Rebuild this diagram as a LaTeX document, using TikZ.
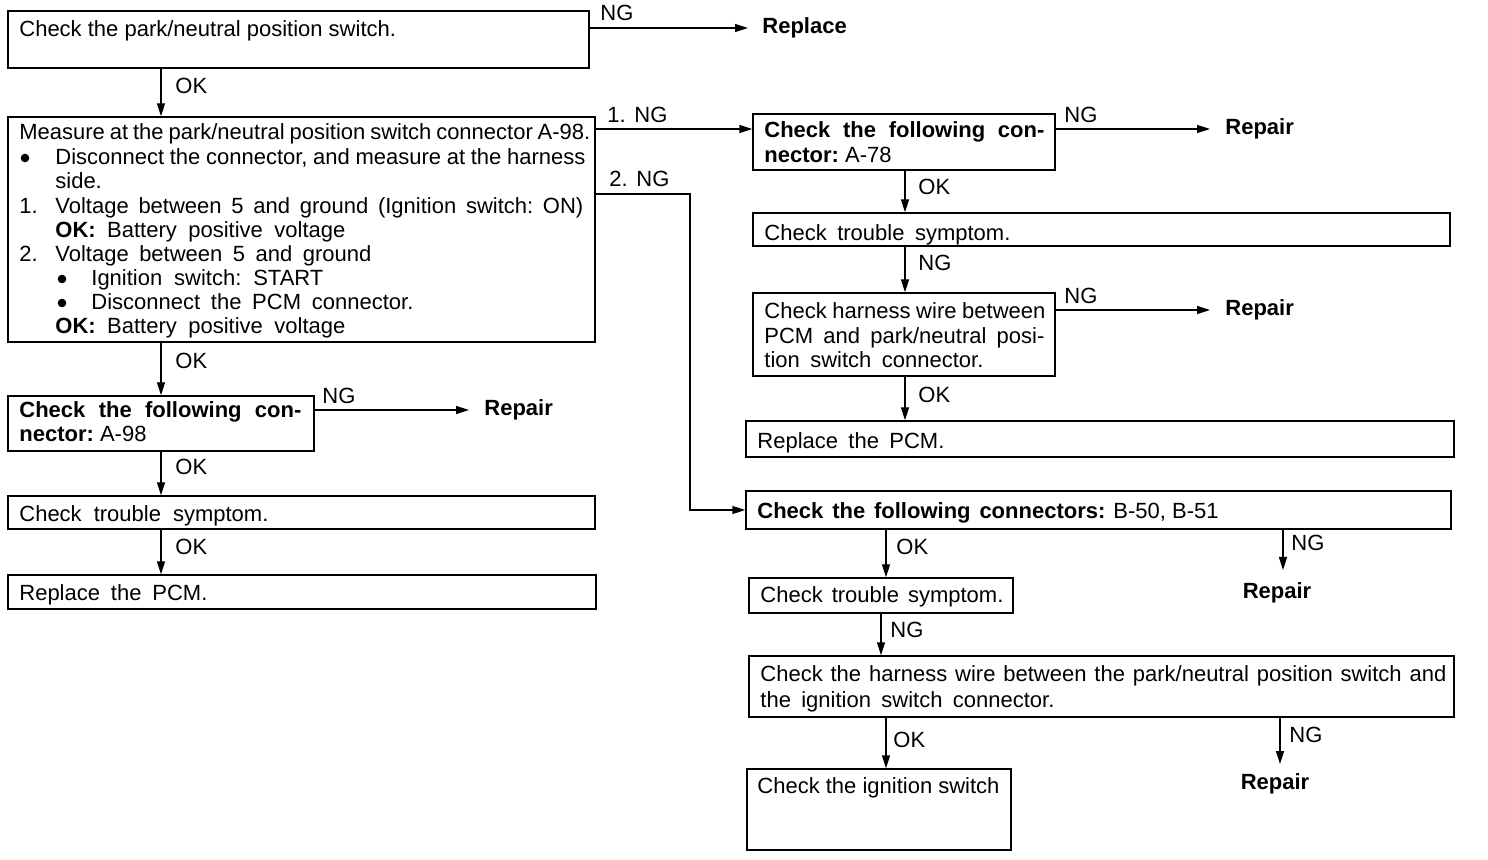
\documentclass[tikz,border=0pt]{standalone}
\usepackage{fontspec}
\setmainfont{Liberation Sans}
\usetikzlibrary{arrows.meta,fit,calc}
\newcommand{\jl}[2]{\makebox[\dimexpr #1pt/2\relax][s]{#2}}
\begin{document}
\begin{tikzpicture}[x=0.5pt,y=-0.5pt,
  box/.style={draw,line width=0.7pt,inner sep=0pt},
  txt/.style={anchor=base west,inner sep=0pt,font=\fontsize{11}{12.3}\selectfont\frenchspacing},
  res/.style={inner sep=0pt,font=\fontsize{11}{12.3}\selectfont\bfseries},
  dot/.style={circle,fill,inner sep=0pt,minimum size=4.3pt},
  arr/.style={line width=0.7pt,-{Triangle[length=6.5pt,width=4pt]}}]
\useasboundingbox (0,0) rectangle (1488,860);
% ---------- left column ----------
\coordinate (cL) at (161,0);
\node[box,fit={(8,11)(589,68)}] (b1) {};
\node[txt] (b1t) at (19,37) {Check the park/neutral position switch.};
\node[res,anchor=west] (rep1) at (762,28) {Replace};
\node[txt] (ng1) at (600,21) {NG};
\draw[arr] (b1.east |- rep1.west) -- ($(rep1.west)+(-14,0)$);

\node[box,fit={(8,117)(595,342)}] (b2) {};
\draw[arr] (cL |- b1.south) -- (cL |- b2.north);
\node[txt] (ok1) at (175,94) {OK};
\node[txt] (l1) at (19,140) {\jl{571}{Measure at the park/neutral position switch connector A-98.}};
\node[dot] (l2b) at (25,158) {};
\node[txt] (l2) at (55,165) {\jl{530}{Disconnect the connector, and measure at the harness}};
\node[txt] (l3) at (55,189) {side.};
\node[txt] (l4n) at (19,214) {1.};
\node[txt] (l4) at (55,214) {\jl{528}{Voltage between 5 and ground (Ignition switch: ON)}};
\node[txt] (l5) at (55,238) {\jl{290}{\textbf{OK:} Battery positive voltage}};
\node[txt] (l6n) at (19,262) {2.};
\node[txt] (l6) at (55,262) {\jl{316}{Voltage between 5 and ground}};
\node[dot] (l7b) at (62,279) {};
\node[txt] (l7) at (91,286) {\jl{232}{Ignition switch: START}};
\node[dot] (l8b) at (62,303) {};
\node[txt] (l8) at (91,310) {\jl{322}{Disconnect the PCM connector.}};
\node[txt] (l9) at (55,334) {\jl{290}{\textbf{OK:} Battery positive voltage}};

\node[box,fit={(8,396)(314,451)}] (b3) {};
\draw[arr] (cL |- b2.south) -- (cL |- b3.north);
\node[txt] (ok2) at (175,369) {OK};
\node[txt] (b3t1) at (19,418) {\jl{282}{\bfseries Check the following con-}};
\node[txt] (b3t2) at (19,442) {\textbf{nector:} A-98};
\node[res,anchor=west] (rep2) at (484,410) {Repair};
\node[txt] (ng2) at (322,404) {NG};
\draw[arr] (b3.east |- rep2.west) -- ($(rep2.west)+(-15,0)$);

\node[box,fit={(8,496)(595,529)}] (b4) {};
\draw[arr] (cL |- b3.south) -- (cL |- b4.north);
\node[txt] (ok3) at (175,475) {OK};
\node[txt] (b4t) at (19,522) {\jl{249}{Check trouble symptom.}};

\node[box,fit={(8,575)(596,609)}] (b5) {};
\draw[arr] (cL |- b4.south) -- (cL |- b5.north);
\node[txt] (ok4) at (175,554) {OK};
\node[txt] (b5t) at (19,601) {\jl{188}{Replace the PCM.}};

% ---------- right column, branch 1 ----------
\node[box,fit={(753,114)(1055,170)}] (r1) {};
\coordinate (t1) at (700,129);
\draw[arr] (b2.east |- t1) -- (r1.west |- t1);
\node[txt] (ng3) at (607,123) {\jl{60}{1. NG}};
\node[txt] (r1t1) at (764,138) {\jl{280}{\bfseries Check the following con-}};
\node[txt] (r1t2) at (764,163) {\textbf{nector:} A-78};
\node[res,anchor=west] (rep3) at (1225,129) {Repair};
\node[txt] (ng5) at (1064,123) {NG};
\draw[arr] (r1.east |- rep3.west) -- ($(rep3.west)+(-15,0)$);

\coordinate (cR) at (905,0);
\node[box,fit={(753,213)(1450,246)}] (r2) {};
\draw[arr] (cR |- r1.south) -- (cR |- r2.north);
\node[txt] (ok5) at (918,195) {OK};
\node[txt] (r2t) at (764,241) {\jl{246}{Check trouble symptom.}};

\node[box,fit={(753,293)(1055,376)}] (r3) {};
\draw[arr] (cR |- r2.south) -- (cR |- r3.north);
\node[txt] (ng6) at (918,271) {NG};
\node[txt] (r3t1) at (764,319) {\jl{281}{Check harness wire between}};
\node[txt] (r3t2) at (764,344) {\jl{280}{PCM and park/neutral posi-}};
\node[txt] (r3t3) at (764,368) {\jl{219}{tion switch connector.}};
\node[res,anchor=west] (rep4) at (1225,310) {Repair};
\node[txt] (ng7) at (1064,304) {NG};
\draw[arr] (r3.east |- rep4.west) -- ($(rep4.west)+(-15,0)$);

\node[box,fit={(746,421)(1454,457)}] (r4) {};
\draw[arr] (cR |- r3.south) -- (cR |- r4.north);
\node[txt] (ok6) at (918,403) {OK};
\node[txt] (r4t) at (757,449) {\jl{187}{Replace the PCM.}};

% ---------- right column, branch 2 ----------
\node[box,fit={(746,491)(1451,529)}] (r5) {};
\coordinate (t2) at (690,194);
\draw[arr] (b2.east |- t2) -- (t2) |- (r5.west);
\node[txt] (ng4) at (609,187) {\jl{60}{2. NG}};
\node[txt] (r5t) at (757,519) {\jl{348}{\bfseries Check the following connectors:}\hspace{4pt}B-50, B-51};

\coordinate (cA) at (886,0);
\node[box,fit={(749,578)(1013,613)}] (r6) {};
\draw[arr] (cA |- r5.south) -- (cA |- r6.north);
\node[txt] (ok7) at (896,555) {OK};
\node[txt] (r6t) at (760,603) {\jl{243}{Check trouble symptom.}};
\coordinate (cN1) at (1283,0);
\node[res,anchor=north] (rep5) at (1277,582) {Repair};
\draw[arr] (cN1 |- r5.south) -- ($(cN1 |- rep5.north)+(0,-12)$);
\node[txt] (ng8) at (1291,551) {NG};

\coordinate (cB) at (881,0);
\node[box,fit={(749,656)(1454,717)}] (r7) {};
\draw[arr] (cB |- r6.south) -- (cB |- r7.north);
\node[txt] (ng9) at (890,637) {NG};
\node[txt] (r7t1) at (760,681) {\jl{686}{Check the harness wire between the park/neutral position switch and}};
\node[txt] (r7t2) at (760,707) {\jl{294}{the ignition switch connector.}};

\node[box,fit={(747,769)(1011,850)}] (r8) {};
\draw[arr] (cA |- r7.south) -- (cA |- r8.north);
\node[txt] (ok8) at (893,747) {OK};
\node[txt] (r8t) at (757,793) {Check the ignition switch};
\coordinate (cN2) at (1280,0);
\node[res,anchor=north] (rep6) at (1275,773) {Repair};
\draw[arr] (cN2 |- r7.south) -- ($(cN2 |- rep6.north)+(0,-9)$);
\node[txt] (ng10) at (1289,742) {NG};
\end{tikzpicture}
\end{document}
